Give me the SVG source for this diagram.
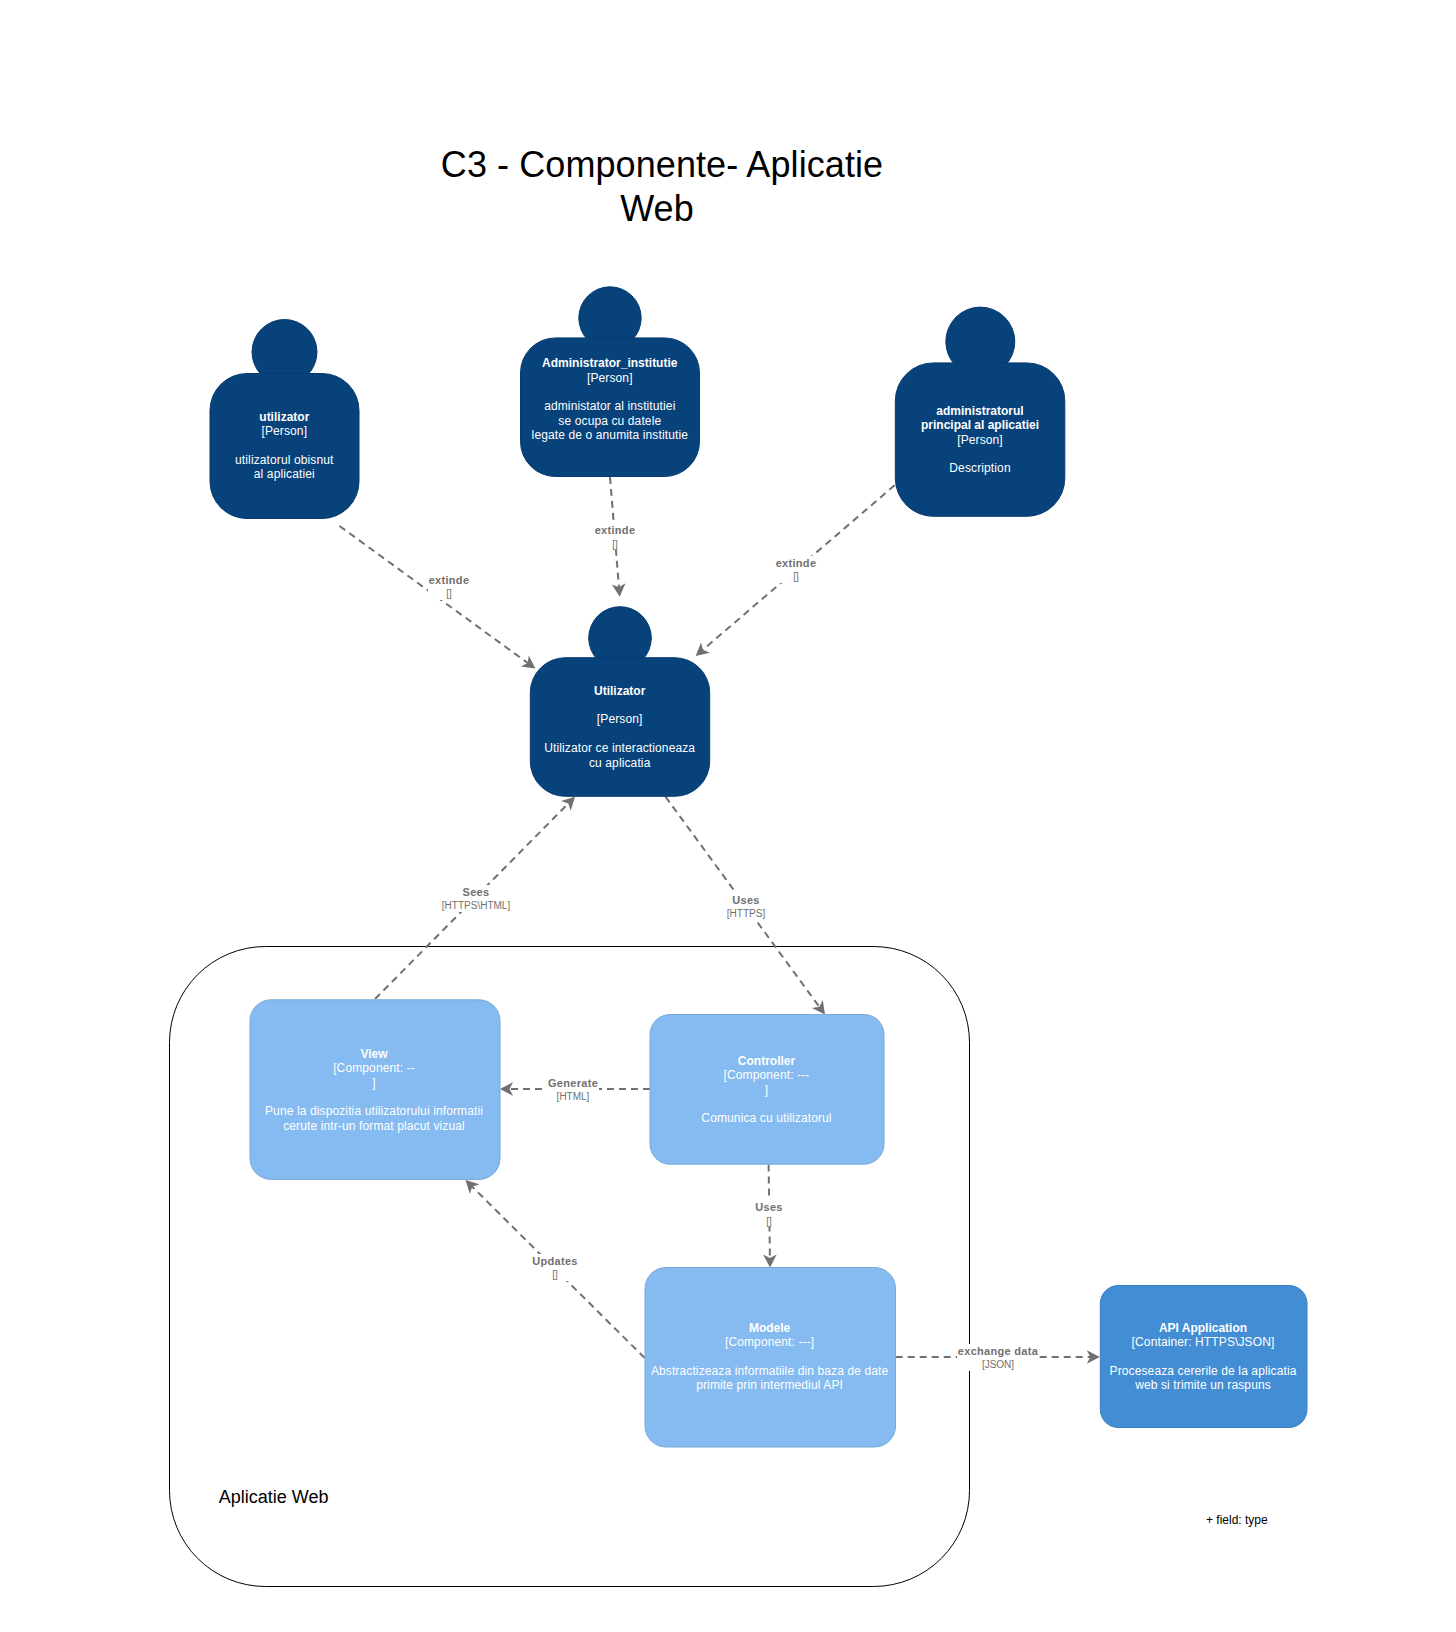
<svg xmlns="http://www.w3.org/2000/svg" width="1456" height="1632" viewBox="0 0 1456 1632">
<style>
text{font-family:"Liberation Sans",Arial,sans-serif;font-size:12px;text-anchor:middle;fill:#fff;letter-spacing:.12px}
.b{font-weight:bold;letter-spacing:0}
.p{fill:#08427B;stroke:#073B6F;stroke-width:1}
.c{fill:#85BBF0;stroke:#78A8D8;stroke-width:1}
.a{fill:#438DD5;stroke:#3C7FC0;stroke-width:1}
.e{fill:none;stroke:#707070;stroke-width:2;stroke-dasharray:7 5;marker-end:url(#arr)}
.l{fill:#fff;stroke:none}
.t{font-size:10px;fill:#707070;letter-spacing:0}
.t.b{font-size:11px;letter-spacing:.3px}
.title{font-size:36px;fill:#000;letter-spacing:.08px}
</style>
<defs>
<marker id="arr" markerUnits="userSpaceOnUse" markerWidth="18" markerHeight="18" viewBox="-15 -9 18 18" refX="-4" refY="0" orient="auto">
<path d="M0,0 L-13,-6.8 L-9.5,0 L-13,6.8 Z" fill="#707070"/>
</marker>
</defs>
<rect width="1456" height="1632" fill="#fff"/>
<g id="title">
<text class="title" x="662" y="177">C3 - Componente- Aplicatie</text>
<text class="title" x="657" y="221">Web</text>
</g>
<g id="container-aplicatie-web">
<rect x="169.5" y="946.5" width="800" height="640" rx="96" ry="96" fill="#fff" stroke="#000" stroke-width="1"/>
<text x="218.7" y="1503" style="font-size:18px;fill:#000;text-anchor:start;letter-spacing:0">Aplicatie Web</text>
</g>
<g id="connectors">
<path class="e" d="M339.5 526L532.1 666.2"/>
<path class="e" d="M610 477L619.4 592.8"/>
<path class="e" d="M894.6 485.3L698.7 653.4"/>
<path class="e" d="M375 999L572.2 799.5"/>
<path class="e" d="M665.5 796.7L822.6 1011.3"/>
<path class="e" d="M650 1089L504 1089"/>
<path class="e" d="M768.6 1164.5L770 1263.5"/>
<path class="e" d="M644.7 1358L468.3 1182.8"/>
<path class="e" d="M895.7 1357L1095.8 1357"/>
<g id="edge-labels">
<rect class="l" x="428" y="573" width="42" height="27"/>
<text class="t b" x="449" y="584">extinde</text><text class="t" x="449" y="597">[]</text>
<rect class="l" x="594" y="523" width="41" height="27"/>
<text class="t b" x="615" y="534">extinde</text><text class="t" x="615" y="548">[]</text>
<rect class="l" x="775" y="556" width="42" height="27"/>
<text class="t b" x="796" y="567">extinde</text><text class="t" x="796" y="580">[]</text>
<rect class="l" x="441" y="885" width="71" height="27"/>
<text class="t b" x="476" y="896">Sees</text><text class="t" x="476" y="909">[HTTPS\HTML]</text>
<rect class="l" x="725" y="893" width="41" height="27"/>
<text class="t b" x="746" y="904">Uses</text><text class="t" x="746" y="917">[HTTPS]</text>
<rect class="l" x="547" y="1076" width="52" height="27"/>
<text class="t b" x="573" y="1087">Generate</text><text class="t" x="573" y="1100">[HTML]</text>
<rect class="l" x="755" y="1200" width="28" height="27"/>
<text class="t b" x="769" y="1211">Uses</text><text class="t" x="769" y="1225">[]</text>
<rect class="l" x="532" y="1254" width="46" height="27"/>
<text class="t b" x="555" y="1265">Updates</text><text class="t" x="555" y="1278">[]</text>
<rect class="l" x="957" y="1344" width="82" height="27"/>
<text class="t b" x="998" y="1355">exchange data</text><text class="t" x="998" y="1368">[JSON]</text>
</g>
</g>
<g id="node-utilizator-simplu">
<circle class="p" cx="284.5" cy="352" r="32.5"/>
<rect class="p" x="210" y="373.5" width="149" height="145" rx="37"/>
<text class="b" x="284.3" y="421">utilizator</text><text x="284.3" y="435">[Person]</text>
<text x="284.3" y="464">utilizatorul obisnut</text><text x="284.3" y="478">al aplicatiei</text>
</g>
<g id="node-administrator-institutie">
<circle class="p" cx="610" cy="318" r="31.2"/>
<rect class="p" x="520.5" y="337.9" width="179" height="138.6" rx="35"/>
<text class="b" x="609.8" y="367">Administrator_institutie</text><text x="609.8" y="382">[Person]</text>
<text x="609.8" y="410">administator al institutiei</text><text x="609.8" y="425">se ocupa cu datele</text><text x="609.8" y="439">legate de o anumita institutie</text>
</g>
<g id="node-administrator-principal">
<circle class="p" cx="980.3" cy="341.6" r="34.5"/>
<rect class="p" x="895.3" y="362.9" width="169.5" height="153.4" rx="38"/>
<text class="b" x="980" y="415">administratorul</text><text class="b" x="980" y="429">principal al aplicatiei</text><text x="980" y="444">[Person]</text>
<text x="980" y="472">Description</text>
</g>
<g id="node-utilizator">
<circle class="p" cx="620" cy="638" r="31.3"/>
<rect class="p" x="530.3" y="657.7" width="179.4" height="138.6" rx="35"/>
<text class="b" x="619.7" y="695">Utilizator</text><text x="619.7" y="723">[Person]</text>
<text x="619.7" y="752">Utilizator ce interactioneaza</text><text x="619.7" y="767">cu aplicatia</text>
</g>
<g id="node-view">
<rect class="c" x="250" y="999.8" width="250" height="179.6" rx="21"/>
<text class="b" x="374" y="1058">View</text><text x="374" y="1072">[Component: --</text><text x="374" y="1087">]</text>
<text x="374" y="1115">Pune la dispozitia utilizatorului informatii</text><text x="374" y="1130">cerute intr-un format placut vizual</text>
</g>
<g id="node-controller">
<rect class="c" x="650" y="1014.5" width="234" height="149.7" rx="20"/>
<text class="b" x="766.5" y="1065">Controller</text><text x="766.5" y="1079">[Component: ---</text><text x="766.5" y="1094">]</text>
<text x="766.5" y="1122">Comunica cu utilizatorul</text>
</g>
<g id="node-modele">
<rect class="c" x="645" y="1267.5" width="250.5" height="179.5" rx="21"/>
<text class="b" x="769.6" y="1332">Modele</text><text x="769.6" y="1346">[Component: ---]</text>
<text x="769.6" y="1375">Abstractizeaza informatiile din baza de date</text><text x="769.6" y="1389">primite prin intermediul API</text>
</g>
<g id="node-api">
<rect class="a" x="1100.3" y="1285.5" width="206.7" height="142" rx="18"/>
<text class="b" x="1203" y="1332">API Application</text><text x="1203" y="1346">[Container: HTTPS\JSON]</text>
<text x="1203" y="1375">Proceseaza cererile de la aplicatia</text><text x="1203" y="1389">web si trimite un raspuns</text>
</g>
<g id="note-field">
<text x="1206" y="1523.5" style="fill:#000;text-anchor:start;letter-spacing:0">+ field: type</text>
</g>
</svg>
